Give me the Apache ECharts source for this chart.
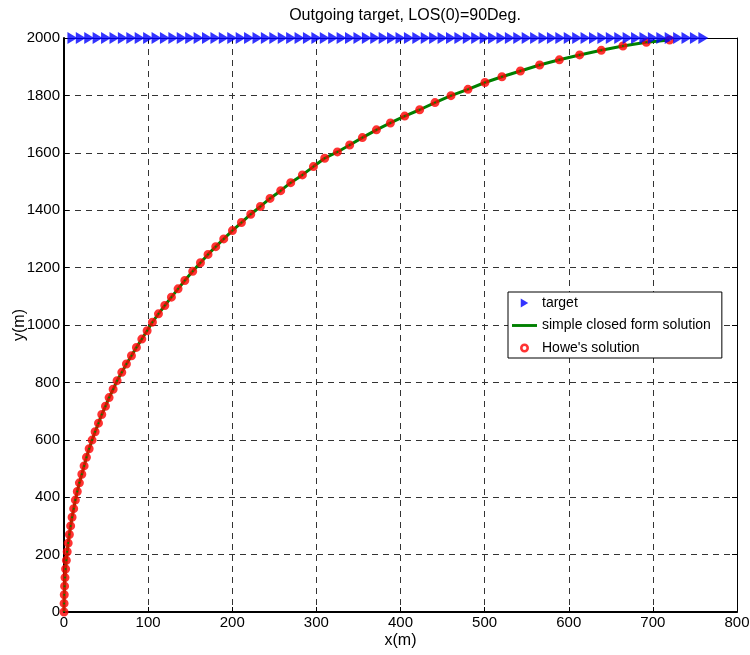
<!DOCTYPE html>
<html>
<head>
<meta charset="utf-8">
<script src="https://cdn.jsdelivr.net/npm/echarts@6/dist/echarts.min.js"></script>
<style>
html,body{margin:0;padding:0;background:#fff;}
#c{width:750px;height:655px;}
</style>
</head>
<body>
<div id="c"></div>
<script>
// ---- data ----
var xTicks = [0, 100, 200, 300, 400, 500, 600, 700, 800];
var yTicks = [0, 200, 400, 600, 800, 1000, 1200, 1400, 1600, 1800, 2000];

var targetX = [10,20,30,40,50,60,70,80,90,100,110,120,130,140,150,160,170,180,190,200,
  210,220,230,240,250,260,270,280,290,300,310,320,330,340,350,360,370,380,390,400,
  410,420,430,440,450,460,470,480,490,500,510,520,530,540,550,560,570,580,590,600,
  610,620,630,640,650,660,670,680,690,700,710,720,730,740,750,760];
var targetYValue = 2000;

var howeX = [0,0.1,0.3,0.7,1.2,1.9,2.8,3.8,5.0,6.4,7.9,9.6,11.5,13.5,15.8,18.3,
  21.2,23.9,26.7,29.9,33.4,37.0,41.0,44.9,49.3,53.6,58.4,63.1,68.7,74.2,80.2,86.1,92.5,98.8,
  105.1,112.3,119.8,127.7,135.6,143.6,153.0,
  162.2,171.2,180.4,189.9,200.2,210.9,222.0,233.5,244.9,257.6,269.5,283.4,296.5,
  309.9,325.0,339.6,354.7,371.4,388.0,405.0,422.8,441.0,460.0,480.2,500.4,520.6,542.5,
  565.4,588.8,612.9,638.7,664.4,692.2,719.9];
var howeY = [0,30,60,90,120,150,180,210,240,270,300,330,360,390,420,450,
  480,509,539,569,599,628,658,688,717,747,776,806,835,864,893,922,951,980,
  1010,1039,1068,1097,1126,1155,1187,
  1217,1246,1273,1300,1329,1357,1386,1413,1441,1468,1496,1523,1552,
  1581,1603,1627,1653,1680,1704,1728,1750,1775,1799,1821,1845,1865,1885,
  1906,1924,1941,1957,1972,1985,1993];

// closed-form curve follows the same path
var closedX = howeX;
var closedY = howeY;

var names = ['target', 'simple closed form solution', "Howe's solution"];
var titleText = 'Outgoing target, LOS(0)=90Deg.';

// ---- build ----
function pairs(xs, ys) { return xs.map(function (x, i) { return [x, ys[i]]; }); }
var targetData = targetX.map(function (x) { return [x, targetYValue]; });

var FONT = 'Liberation Sans, Arial, sans-serif';
var chart = echarts.init(document.getElementById('c'), null, {renderer: 'canvas'});
var gridDash = {color: '#333', width: 1, type: [6, 5]};
var RING = 'path://M4,0A4,4,0,1,1,4,8A4,4,0,1,1,4,0ZM4,2.3A1.7,1.7,0,1,0,4,5.7A1.7,1.7,0,1,0,4,2.3Z';

chart.setOption({
  animation: false,
  backgroundColor: '#fff',
  title: {
    text: titleText, left: 400, top: 3, textAlign: 'center',
    textStyle: {fontFamily: FONT, fontSize: 16, fontWeight: 'normal', color: '#000'}
  },
  grid: {left: 64, right: 13, top: 38, bottom: 43, containLabel: false, outerBoundsMode: 'none'},
  legend: {
    orient: 'vertical', left: 508, top: 292,
    backgroundColor: '#fff', borderColor: '#000', borderWidth: 1,
    padding: [2, 11, 1, 4], itemGap: 4.5, itemWidth: 25, itemHeight: 9,
    textStyle: {fontFamily: FONT, fontSize: 14, color: '#000', lineHeight: 18},
    data: [
      {name: names[0], icon: 'path://M0,0L10,6L0,12Z', itemStyle: {color: '#0000ff'}},
      {name: names[1], icon: 'path://M0,0L26,0L26,3L0,3Z', itemStyle: {color: '#008000'}},
      {name: names[2], icon: RING, itemStyle: {color: '#ff0000', borderWidth: 0}}
    ]
  },
  xAxis: [{
    type: 'value', min: 0, max: 800, interval: 100, position: 'bottom',
    name: 'x(m)', nameLocation: 'middle', nameGap: 21, nameMoveOverlap: false,
    nameTextStyle: {fontFamily: FONT, fontSize: 16, color: '#000'},
    axisLine: {onZero: false, lineStyle: {color: '#000', width: 2}},
    axisTick: {inside: true, length: 5, lineStyle: {color: '#000'}},
    axisLabel: {fontFamily: FONT, fontSize: 15, color: '#000', margin: 3,
      formatter: function (v) { return xTicks.indexOf(v) >= 0 ? String(v) : ''; }},
    splitLine: {show: true, lineStyle: gridDash}
  }, {
    type: 'value', min: 0, max: 800, interval: 100, position: 'top',
    axisLine: {onZero: false, lineStyle: {color: '#000', width: 1}},
    axisTick: {inside: true, length: 5, lineStyle: {color: '#000'}},
    axisLabel: {show: false}, splitLine: {show: false}
  }],
  yAxis: [{
    type: 'value', min: 0, max: 2000, interval: 200, position: 'left',
    name: 'y(m)', nameLocation: 'middle', nameGap: 36, nameRotate: 90, nameMoveOverlap: false,
    nameTextStyle: {fontFamily: FONT, fontSize: 16, color: '#000'},
    axisLine: {onZero: false, lineStyle: {color: '#000', width: 2}},
    axisTick: {inside: true, length: 5, lineStyle: {color: '#000'}},
    axisLabel: {fontFamily: FONT, fontSize: 15, color: '#000', margin: 4,
      formatter: function (v) { return yTicks.indexOf(v) >= 0 ? String(v) : ''; }},
    splitLine: {show: true, lineStyle: gridDash}
  }, {
    type: 'value', min: 0, max: 2000, interval: 200, position: 'right',
    axisLine: {onZero: false, lineStyle: {color: '#000', width: 1}},
    axisTick: {inside: true, length: 5, lineStyle: {color: '#000'}},
    axisLabel: {show: false}, splitLine: {show: false}
  }],
  series: [{
    name: names[0], type: 'scatter', data: targetData, z: 5,
    symbol: 'path://M0,0L10,6L0,12Z', symbolSize: [10, 12], symbolKeepAspect: false,
    itemStyle: {color: '#0000ff'}, clip: false
  }, {
    name: names[1], type: 'line', data: pairs(closedX, closedY), z: 3,
    symbol: 'none', showSymbol: false,
    lineStyle: {color: '#008000', width: 3}, itemStyle: {color: '#008000'}
  }, {
    name: names[2], type: 'scatter', data: pairs(howeX, howeY), z: 4,
    symbol: 'circle', symbolSize: 5.5,
    itemStyle: {color: 'rgba(0,0,0,0)', borderColor: '#ff0000', borderWidth: 3.5}, clip: false
  }]
});
</script>
</body>
</html>
